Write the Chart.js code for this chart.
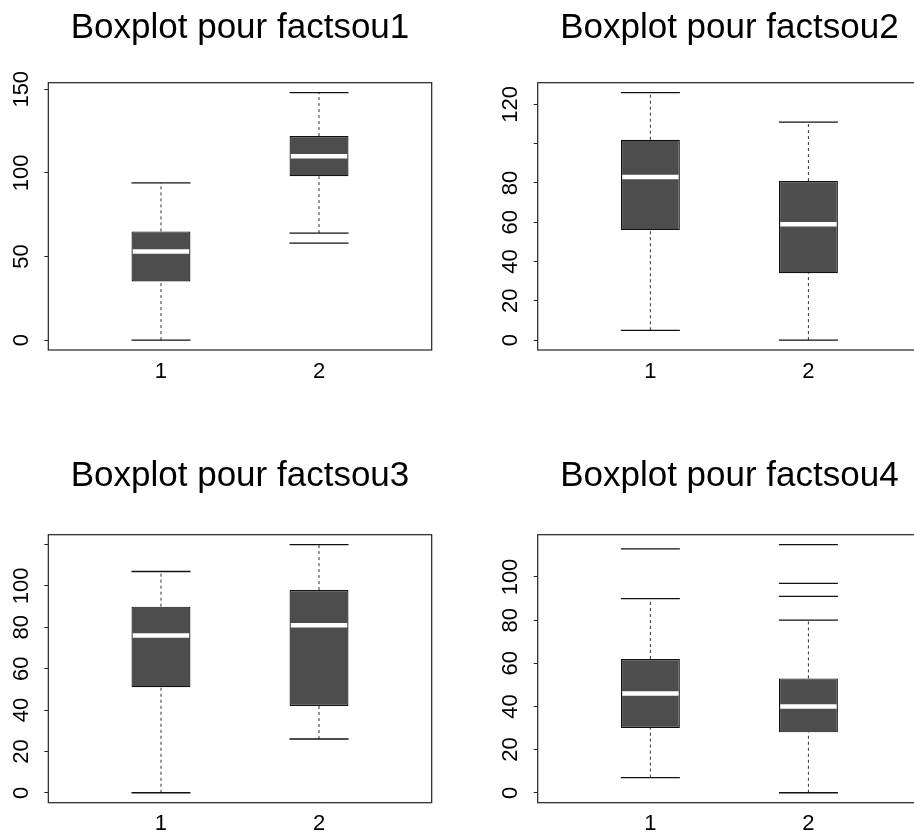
<!DOCTYPE html>
<html>
<head>
<meta charset="utf-8">
<title>Boxplots factsou1-4</title>
<script src="https://cdn.jsdelivr.net/npm/chart.js@4/dist/chart.umd.min.js"></script>
<style>
  html, body { margin: 0; padding: 0; background: #fff; overflow: hidden; width: 914px; height: 835px; }
  canvas.panel { position: absolute; }
</style>
</head>
<body>
<canvas id="p1" class="panel" width="457" height="418" style="left:0;top:0"></canvas>
<canvas id="p2" class="panel" width="480" height="418" style="left:457px;top:0"></canvas>
<canvas id="p3" class="panel" width="457" height="387" style="left:0;top:448px"></canvas>
<canvas id="p4" class="panel" width="480" height="387" style="left:457px;top:448px"></canvas>
<script>
// Groups on the x axis
const groups = ['1', '2'];

// Five-number summaries per group: [lower whisker, Q1, median, Q3, upper whisker]
const factsou1 = [[0, 35, 53, 65, 94], [64, 98, 110, 122, 148]];
const factsou2 = [[5, 56, 83, 102, 126], [0, 34, 59, 81, 111]];
const factsou3 = [[0, 51, 76, 90, 107], [26, 42, 81, 98, 120]];
const factsou4 = [[7, 30, 46, 62, 90], [0, 28, 40, 53, 80]];

// Outlying values per group
const factsou1Out = [[], [58]];
const factsou2Out = [[], []];
const factsou3Out = [[], []];
const factsou4Out = [[113], [91, 97, 115]];

// Y tick positions and their labels (blank where a label would collide)
const yTicks1 = [0, 50, 100, 150];
const yLabels1 = ['0', '50', '100', '150'];
const yTicks2 = [0, 20, 40, 60, 80, 100, 120];
const yLabels2 = ['0', '20', '40', '60', '80', '', '120'];
const yTicks3 = [0, 20, 40, 60, 80, 100, 120];
const yLabels3 = ['0', '20', '40', '60', '80', '100', ''];
const yTicks4 = [0, 20, 40, 60, 80, 100];
const yLabels4 = ['0', '20', '40', '60', '80', '100'];

const titles = ['Boxplot pour factsou1', 'Boxplot pour factsou2', 'Boxplot pour factsou3', 'Boxplot pour factsou4'];

Chart.defaults.font.family = '"Liberation Sans", Arial, Helvetica, sans-serif';
Chart.defaults.color = '#000';

// Frame drawn round the plotting region
const plotFrame = {
  id: 'plotFrame',
  afterDraw(chart) {
    const { ctx, chartArea: a } = chart;
    ctx.save();
    ctx.strokeStyle = '#222';
    ctx.lineWidth = 1.2;
    ctx.strokeRect(a.left, a.top, a.right - a.left, a.bottom - a.top);
    ctx.restore();
  }
};

// Layout of each panel: y-axis band, x-axis band, right padding, title paddings
const layoutTop = { yw: 48.3, xh: 68, right: 25.3, tTop: 6.9, tBottom: 33.8 };
const layoutTopR = { yw: 80.7, xh: 68, right: 15.9, tTop: 6.9, tBottom: 33.8 };
const layoutBot = { yw: 48.3, xh: 32.3, right: 25.3, tTop: 7.2, tBottom: 37.5 };
const layoutBotR = { yw: 80.7, xh: 32.3, right: 15.9, tTop: 7.2, tBottom: 37.5 };

const X_MIN = 0.287, X_MAX = 2.713;
const BOX_FRACTION = 0.373;
const BOX_HALF = 29.5;

function drawBoxplot(id, title, stats, outliers, yTicks, yLabels, geo) {
  const all = stats.flat().concat(outliers.flat());
  const lo = Math.min(...all), hi = Math.max(...all);
  const ext = (hi - lo) * 0.04;

  const boxes = stats.map((s, i) => ({ x: i + 1, y: [s[1], s[3]] }));
  const medians = stats.map((s, i) => ({ x: i + 1, y: s[2] }));
  const caps = stats.flatMap((s, i) => [{ x: i + 1, y: s[0] }, { x: i + 1, y: s[4] }]);
  const whiskers = stats.flatMap((s, i) => [
    { x: i + 1, y: s[3] }, { x: i + 1, y: s[4] }, { x: i + 1, y: null },
    { x: i + 1, y: s[0] }, { x: i + 1, y: s[1] }, { x: i + 1, y: null }
  ]);
  const outs = outliers.flatMap((o, i) => o.map(v => ({ x: i + 1, y: v })));

  return new Chart(document.getElementById(id), {
    type: 'bar',
    data: {
      datasets: [
        { type: 'line', data: whiskers, borderColor: '#333', borderWidth: 1, borderDash: [3, 3],
          pointRadius: 0, spanGaps: false, order: 4 },
        { type: 'bar', data: boxes, backgroundColor: '#4d4d4d', borderColor: '#111', borderWidth: 1.2,
          borderSkipped: false, barPercentage: BOX_FRACTION, categoryPercentage: 1, order: 3 },
        { type: 'scatter', data: caps, pointStyle: 'line', pointRadius: BOX_HALF,
          borderColor: '#111', borderWidth: 1.3, order: 2 },
        { type: 'scatter', data: outs, pointStyle: 'line', pointRadius: BOX_HALF,
          borderColor: '#111', borderWidth: 1.3, order: 2 },
        { type: 'scatter', data: medians, pointStyle: 'line', pointRadius: BOX_HALF - 1.3,
          borderColor: '#fff', borderWidth: 4.5, order: 1 }
      ]
    },
    options: {
      responsive: false,
      animation: false,
      devicePixelRatio: 1,
      events: [],
      layout: { autoPadding: false, padding: { top: 0, left: 0, bottom: 0, right: geo.right } },
      plugins: {
        legend: { display: false },
        tooltip: { enabled: false },
        title: {
          display: true, text: title, fullSize: false, color: '#000',
          font: { size: 35, weight: 'normal', lineHeight: 1.2 },
          padding: { top: geo.tTop, bottom: geo.tBottom }
        }
      },
      scales: {
        x: {
          type: 'linear', min: X_MIN, max: X_MAX, offset: false,
          afterBuildTicks: s => { s.ticks = groups.map((g, i) => ({ value: i + 1 })); },
          afterFit: s => { s.height = geo.xh; s.paddingLeft = 0; s.paddingRight = 0; },
          ticks: { callback: (v, i) => groups[i], font: { size: 22 }, color: '#000',
                   padding: 8.3, autoSkip: false, maxRotation: 0 },
          grid: { display: false, drawTicks: false, offset: false },
          border: { display: false }
        },
        y: {
          type: 'linear', min: lo - ext, max: hi + ext,
          afterBuildTicks: s => { s.ticks = yTicks.map(v => ({ value: v })); },
          afterFit: s => { s.width = geo.yw; },
          ticks: { callback: (v, i) => yLabels[i], font: { size: 22 }, color: '#000',
                   minRotation: 90, maxRotation: 90, crossAlign: 'center', padding: 4.5, autoSkip: false },
          grid: { drawOnChartArea: false, drawTicks: true, tickLength: 4, color: '#222', lineWidth: 1 },
          border: { display: false }
        }
      }
    },
    plugins: [plotFrame]
  });
}

drawBoxplot('p1', titles[0], factsou1, factsou1Out, yTicks1, yLabels1, layoutTop);
drawBoxplot('p2', titles[1], factsou2, factsou2Out, yTicks2, yLabels2, layoutTopR);
drawBoxplot('p3', titles[2], factsou3, factsou3Out, yTicks3, yLabels3, layoutBot);
drawBoxplot('p4', titles[3], factsou4, factsou4Out, yTicks4, yLabels4, layoutBotR);
</script>
</body>
</html>
